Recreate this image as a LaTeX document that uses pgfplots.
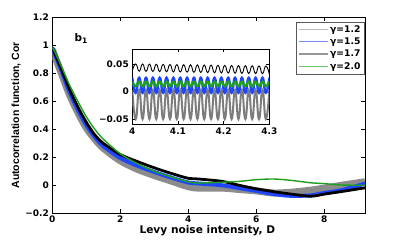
\documentclass[border=0pt]{standalone}
\usepackage{pgfplots}
\pgfplotsset{compat=1.18}
\usepackage{pgfplotstable}
\usepackage{fontspec}
\newfontfamily\dv{DejaVu Sans}
\newfontfamily\ls{Liberation Sans}
\definecolor{cblue}{RGB}{30,70,255}
\definecolor{cgreen}{RGB}{30,160,30}
\definecolor{cgray}{RGB}{140,140,140}
\definecolor{igray}{RGB}{125,125,125}
\definecolor{lgA}{RGB}{185,185,185}
\definecolor{lgB}{RGB}{120,140,255}
\definecolor{lgC}{RGB}{150,150,150}
\definecolor{lgD}{RGB}{110,200,110}
\pgfplotsset{mylegend/.style={legend image code/.code={\draw[##1] (0pt,0pt) -- (29pt,0pt);}}}

\pgfplotstableread{
D     black   blue    gray    green
0     0.985   0.98    0.97    0.99
0.25  0.84    0.83    0.81    0.86
0.5   0.69    0.67    0.65    0.72
0.75  0.56    0.54    0.52    0.60
1     0.45    0.43    0.41    0.49
1.25  0.36    0.345   0.33    0.40
1.5   0.30    0.28    0.265   0.33
2     0.22    0.195   0.175   0.225
2.5   0.17    0.14    0.115   0.155
3     0.125   0.095   0.07    0.10
3.5   0.085   0.055   0.03    0.06
4     0.05    0.02    -0.01   0.025
4.3   0.045   0.013   -0.02   0.016
5     0.028   0.0     -0.02   0.022
5.5   0.0     -0.02   -0.03   0.028
6     -0.025  -0.04   -0.04   0.04
6.5   -0.045  -0.062  -0.055  0.045
7     -0.062  -0.075  -0.05   0.036
7.6   -0.078  -0.072  -0.035  0.018
8     -0.063  -0.055  -0.02   0.012
8.5   -0.045  -0.035  0.0     0.002
9.2   -0.018  0.012   0.025   0.0
}\maincurves

\pgfplotstableread{
x       gray    blue    green   black
4.0000  0.003   0.025   0.018   0.0370
4.0075  -0.049  -0.002  0.010   0.0499
4.0150  0.003   0.025   0.018   0.0368
4.0225  -0.049  -0.002  0.010   0.0497
4.0300  0.003   0.025   0.018   0.0365
4.0375  -0.049  -0.002  0.010   0.0495
4.0450  0.003   0.025   0.018   0.0363
4.0525  -0.049  -0.002  0.010   0.0493
4.0600  0.003   0.025   0.018   0.0360
4.0675  -0.049  -0.002  0.010   0.0491
4.0750  0.003   0.025   0.018   0.0358
4.0825  -0.049  -0.002  0.010   0.0489
4.0900  0.003   0.025   0.018   0.0355
4.0975  -0.049  -0.002  0.010   0.0487
4.1050  0.003   0.025   0.018   0.0353
4.1125  -0.049  -0.002  0.010   0.0485
4.1200  0.003   0.025   0.018   0.0350
4.1275  -0.049  -0.002  0.010   0.0483
4.1350  0.003   0.025   0.018   0.0348
4.1425  -0.049  -0.002  0.010   0.0481
4.1500  0.003   0.025   0.018   0.0345
4.1575  -0.049  -0.002  0.010   0.0479
4.1650  0.003   0.025   0.018   0.0343
4.1725  -0.049  -0.002  0.010   0.0477
4.1800  0.003   0.025   0.018   0.0340
4.1875  -0.049  -0.002  0.010   0.0475
4.1950  0.003   0.025   0.018   0.0338
4.2025  -0.049  -0.002  0.010   0.0473
4.2100  0.003   0.025   0.018   0.0335
4.2175  -0.049  -0.002  0.010   0.0471
4.2250  0.003   0.025   0.018   0.0333
4.2325  -0.049  -0.002  0.010   0.0469
4.2400  0.003   0.025   0.018   0.0330
4.2475  -0.049  -0.002  0.010   0.0467
4.2550  0.003   0.025   0.018   0.0328
4.2625  -0.049  -0.002  0.010   0.0465
4.2700  0.003   0.025   0.018   0.0325
4.2775  -0.049  -0.002  0.010   0.0463
4.2850  0.003   0.025   0.018   0.0323
4.2925  -0.049  -0.002  0.010   0.0461
4.3000  0.003   0.025   0.018   0.0320
}\insetcurves

\begin{document}
\begin{tikzpicture}
\useasboundingbox (0,0) rectangle (403pt,240pt);
\begin{axis}[
  at={(52.3pt,26.7pt)}, anchor=south west,
  scale only axis, width=312.7pt, height=196pt,
  xmin=0, xmax=9.2, ymin=-0.2, ymax=1.2,
  xtick={0,2,4,6,8}, xticklabels={0,2,4,6,8},
  ytick={-0.2,0,0.2,0.4,0.6,0.8,1,1.2},
  yticklabels={−0.2,0,0.2,0.4,0.6,0.8,1,1.2},
  tick label style={font=\dv\bfseries\fontsize{9}{10}\selectfont},
  xticklabel style={inner sep=1pt, yshift=-1.5pt},
  major tick length=4pt,
  tick style={black, line width=0.5pt},
  axis line style={line width=0.7pt},
  xlabel={Levy noise intensity, D},
  ylabel={Autocorrelation function, Cor},
  xlabel style={at={(axis description cs:0.496,-0.088)}, anchor=center, inner sep=1pt, font=\dv\bfseries\fontsize{10.6}{12}\selectfont},
  ylabel style={at={(axis description cs:-0.116,0.5)}, anchor=center, font=\ls\bfseries\fontsize{10.5}{12}\selectfont},
  legend style={at={(0.998,0.978)}, anchor=north east, draw=black!65, line width=0.6pt,
    font=\dv\bfseries\fontsize{9.2}{10}\selectfont, inner xsep=2pt, inner ysep=2pt,
    row sep=0.8pt, nodes={inner sep=1.6pt}},
  legend cell align=left,
]
\addplot[cgray, line width=7pt, smooth, forget plot] table[x=D, y=gray] {\maincurves};
\addplot[cblue, line width=4pt, smooth, forget plot] table[x=D, y=blue] {\maincurves};
\addplot[black, line width=2.8pt, smooth, forget plot] table[x=D, y=black] {\maincurves};
\addplot[cgreen, line width=1.4pt, smooth, forget plot] table[x=D, y=green] {\maincurves};
\addlegendimage{color=lgA, line width=0.9pt, mylegend}
\addlegendentry{γ=1.2}
\addlegendimage{color=lgB, line width=0.9pt, mylegend}
\addlegendentry{γ=1.5}
\addlegendimage{color=lgC, line width=1.3pt, mylegend}
\addlegendentry{γ=1.7}
\addlegendimage{color=lgD, line width=0.9pt, mylegend}
\addlegendentry{γ=2.0}
\node[font=\dv\bfseries\fontsize{10.5}{12}\selectfont] at (axis cs:0.845,1.045) {b\raisebox{-0.35ex}{\fontsize{7.5}{8}\selectfont 1}};
\end{axis}
\begin{axis}[
  at={(132.3pt,115.7pt)}, anchor=south west,
  scale only axis, width=137pt, height=75.3pt,
  xmin=4, xmax=4.3, ymin=-0.0585, ymax=0.0767,
  scaled ticks=false,
  axis background/.style={fill=white},
  xtick={4,4.1,4.2,4.3}, xticklabels={4,4.1,4.2,4.3},
  ytick={-0.05,0,0.05}, yticklabels={−0.05,0,0.05},
  tick label style={font=\dv\bfseries\fontsize{9}{10}\selectfont},
  major tick length=3pt,
  tick style={black, line width=0.5pt},
  axis line style={line width=0.7pt},
]
\addplot[igray, line width=2pt, smooth, tension=0.9] table[x=x, y=gray] {\insetcurves};
\addplot[cblue, line width=2.4pt, smooth, tension=0.9] table[x=x, y=blue] {\insetcurves};
\addplot[cgreen, line width=2.4pt, smooth, tension=0.9] table[x=x, y=green] {\insetcurves};
\addplot[black, line width=0.9pt, smooth, tension=0.9] table[x=x, y=black] {\insetcurves};
\end{axis}
\end{tikzpicture}
\end{document}
